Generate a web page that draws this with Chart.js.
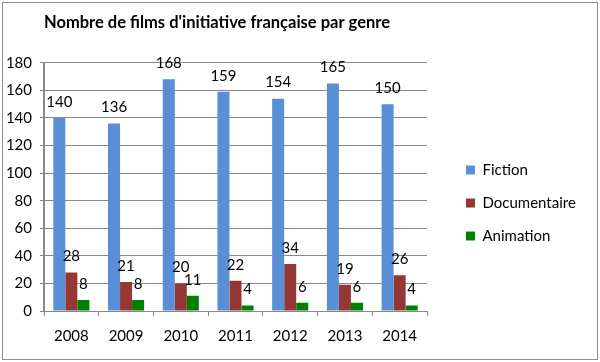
<!DOCTYPE html>
<html>
<head>
<meta charset="utf-8">
<script src="https://cdn.jsdelivr.net/npm/chart.js@4"></script>
<style>
  html, body { margin: 0; padding: 0; background: #fff; }
  #wrap { position: relative; width: 600px; height: 362px; }
  #frame { position: absolute; left: 2px; top: 2px; width: 594px; height: 356px; border: 1px solid #8c8c8c; pointer-events: none; }
</style>
</head>
<body>
<div id="wrap">
  <canvas id="chart" width="600" height="362"></canvas>
  <div id="frame"></div>
</div>
<script>
  const years = ['2008', '2009', '2010', '2011', '2012', '2013', '2014'];
  const fiction = [140, 136, 168, 159, 154, 165, 150];
  const documentaire = [28, 21, 20, 22, 34, 19, 26];
  const animation = [8, 8, 11, 4, 6, 6, 4];
  const yTicks = [0, 20, 40, 60, 80, 100, 120, 140, 160, 180];

  const FONT = 'Lato';

  // valeurs au-dessus des barres
  const barValues = {
    id: 'barValues',
    afterDatasetsDraw(chart) {
      const ctx = chart.ctx;
      ctx.save();
      ctx.font = '15px ' + FONT;
      ctx.fillStyle = '#000';
      ctx.textAlign = 'center';
      ctx.textBaseline = 'middle';
      chart.data.datasets.forEach((ds, i) => {
        chart.getDatasetMeta(i).data.forEach((bar, j) => {
          ctx.fillText(String(ds.data[j]), bar.x, bar.y - 16);
        });
      });
      ctx.restore();
    }
  };

  // largeur fixe de la légende + décalage vertical
  const legendPlace = {
    id: 'legendPlace',
    beforeInit(chart) {
      const fit = chart.legend.fit;
      chart.legend.fit = function() {
        fit.call(this);
        this.width = 152;
      };
    },
    afterLayout(chart) {
      chart.legend.top += 22;
      chart.legend.bottom += 22;
    }
  };

  new Chart(document.getElementById('chart'), {
    type: 'bar',
    data: {
      labels: years,
      datasets: [
        { label: 'Fiction', data: fiction, backgroundColor: '#5a8fd6' },
        { label: 'Documentaire', data: documentaire, backgroundColor: '#953735' },
        { label: 'Animation', data: animation, backgroundColor: '#008000' }
      ]
    },
    options: {
      responsive: false,
      animation: false,
      events: [],
      layout: { padding: 0 },
      datasets: {
        bar: { categoryPercentage: 0.66, barPercentage: 1 }
      },
      plugins: {
        title: {
          display: true,
          text: "Nombre de films d'initiative française par genre",
          align: 'start',
          fullSize: false,
          color: '#000',
          font: { family: FONT, size: 16.5, weight: 'bold', lineHeight: 1.2 },
          padding: { top: 13, bottom: 30 }
        },
        legend: {
          position: 'right',
          labels: {
            color: '#000',
            font: { family: FONT, size: 15 },
            boxWidth: 9,
            boxHeight: 9,
            padding: 18
          }
        },
        tooltip: { enabled: false }
      },
      scales: {
        x: {
          grid: { display: true, drawOnChartArea: false, offset: true, tickLength: 5, color: '#888' },
          border: { color: '#888', width: 1 },
          ticks: { color: '#000', font: { family: FONT, size: 15 }, padding: 11 },
          afterFit(s) { s.height = 51; }
        },
        y: {
          min: 0,
          max: 180,
          afterBuildTicks(s) { s.ticks = yTicks.map(v => ({ value: v })); },
          grid: { color: '#888', tickLength: 4 },
          border: { color: '#888', width: 2 },
          ticks: { color: '#000', font: { family: FONT, size: 15 }, padding: 8 },
          afterFit(s) { s.width = 44; }
        },
        gap: {
          type: 'linear',
          position: 'right',
          grid: { display: false },
          border: { display: false },
          ticks: { display: false },
          afterFit(s) { s.width = 21; }
        }
      }
    },
    plugins: [barValues, legendPlace]
  });
</script>
</body>
</html>
